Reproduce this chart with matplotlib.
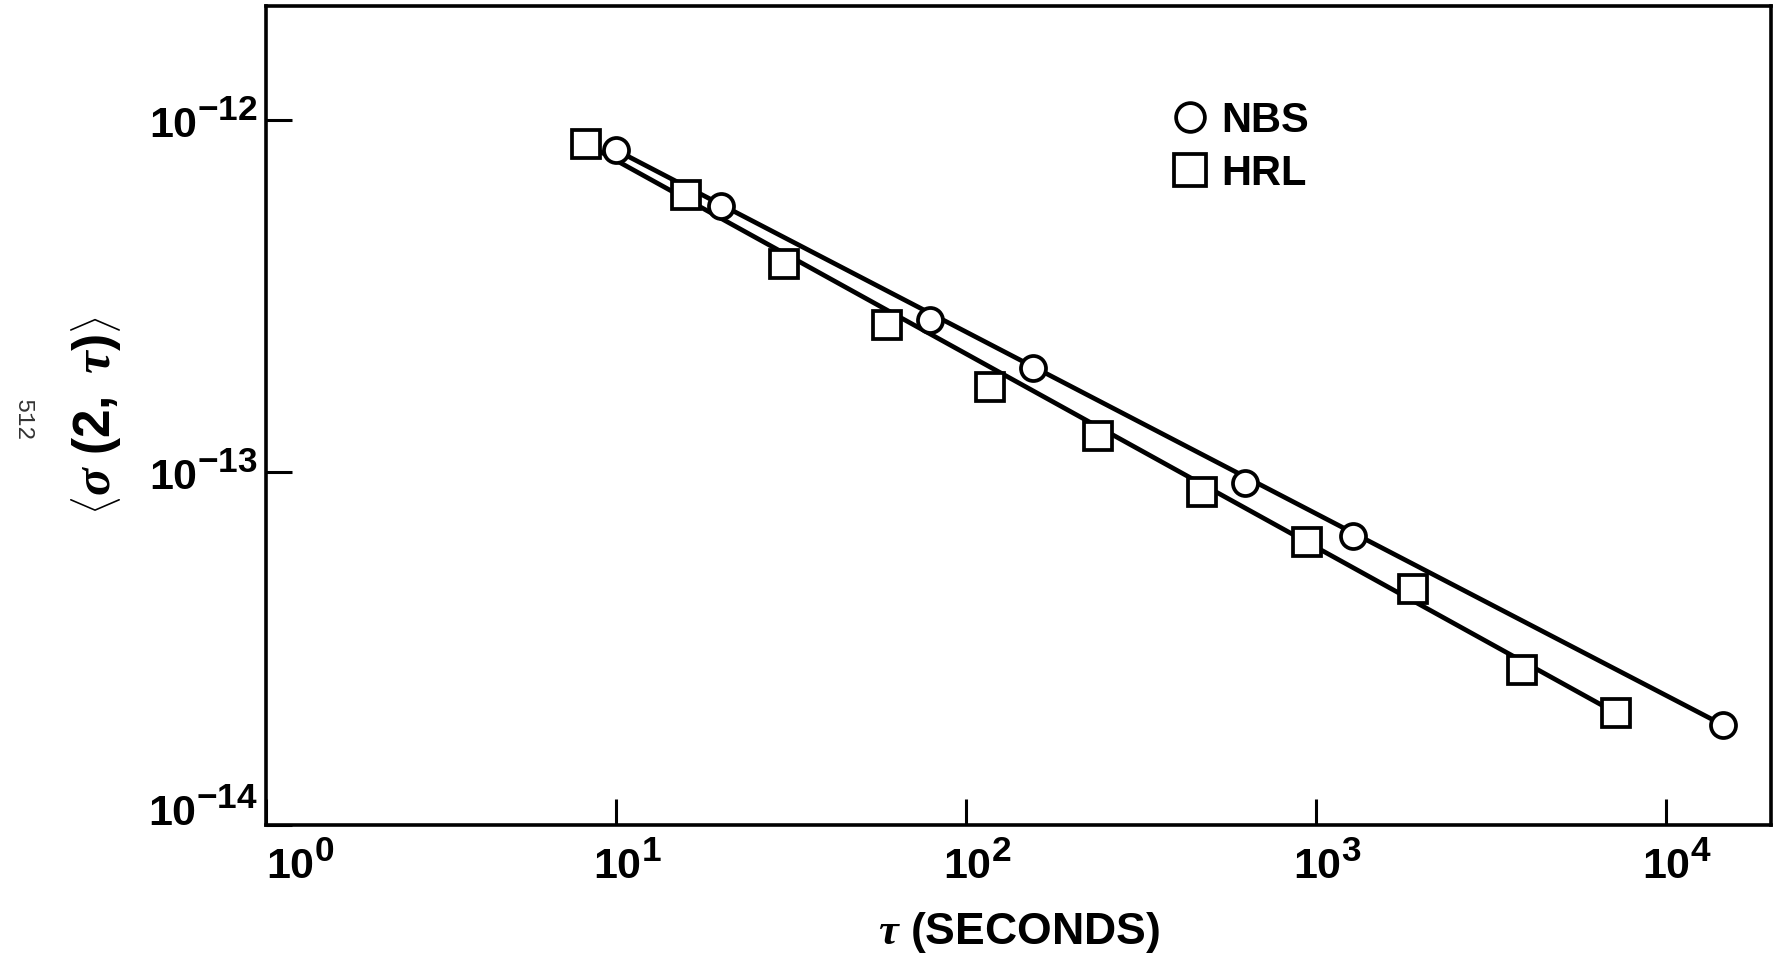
import matplotlib
matplotlib.use("Agg")
import matplotlib.pyplot as plt
import matplotlib.transforms as mtransforms
import matplotlib._mathtext as mathtext_internal

# the printed figure uses larger exponents than mathtext's default 0.7
mathtext_internal.SHRINK_FACTOR = 0.82

# values
nbs_tau = [10, 20, 79, 156, 628, 1275, 14600]
nbs_sigma = [8.2e-13, 5.7e-13, 2.71e-13, 1.97e-13, 9.3e-14, 6.6e-14, 1.92e-14]

hrl_tau = [8.2, 15.9, 30.3, 59.6, 117, 239, 473, 942, 1900, 3890, 7200]
hrl_sigma = [8.55e-13, 6.1e-13, 3.9e-13, 2.62e-13, 1.75e-13, 1.27e-13,
             8.77e-14, 6.33e-14, 4.67e-14, 2.75e-14, 2.08e-14]

# straight fit lines (end points)
nbs_fit_tau = [10, 14600]
nbs_fit_sigma = [8.2e-13, 1.92e-14]
hrl_fit_tau = [8.2, 7200]
hrl_fit_sigma = [8.55e-13, 2.08e-14]

xticks = [1, 10, 100, 1000, 10000]
xticklabels = [r'$\mathbf{10^{0}}$', r'$\mathbf{10^{1}}$', r'$\mathbf{10^{2}}$',
               r'$\mathbf{10^{3}}$', r'$\mathbf{10^{4}}$']
yticks = [1e-14, 1e-13, 1e-12]
yticklabels = [r'$\mathbf{10^{-14}}$', r'$\mathbf{10^{-13}}$', r'$\mathbf{10^{-12}}$']

plt.rcParams['font.family'] = ['Liberation Sans', 'DejaVu Sans']
plt.rcParams['font.weight'] = 'bold'
plt.rcParams['mathtext.fontset'] = 'custom'
plt.rcParams['mathtext.rm'] = 'Liberation Sans:bold'
plt.rcParams['mathtext.bf'] = 'Liberation Sans:bold'
plt.rcParams['mathtext.sf'] = 'Liberation Sans:bold'
plt.rcParams['mathtext.it'] = 'Liberation Serif:italic'

fig = plt.figure(figsize=(17.73, 9.56), dpi=100)
ax = fig.add_axes([266 / 1773, 131 / 956, 1505 / 1773, 819 / 956])

ax.set_xscale('log')
ax.set_yscale('log')

ax.plot(nbs_fit_tau, nbs_fit_sigma, color='black', lw=3.4, zorder=2)
ax.plot(hrl_fit_tau, hrl_fit_sigma, color='black', lw=3.4, zorder=2)

ax.plot(nbs_tau, nbs_sigma, 'o', ms=18, mfc='white', mec='black', mew=2.7,
        zorder=3, label='NBS')
ax.plot(hrl_tau, hrl_sigma, 's', ms=19.5, mfc='white', mec='black', mew=2.7,
        zorder=3, label='HRL')

ax.set_xlim(1, 2.0e4)
ax.set_ylim(1e-14, 2.1e-12)

ax.set_xticks(xticks)
ax.set_xticklabels(xticklabels)
ax.set_yticks(yticks)
ax.set_yticklabels(yticklabels)
ax.minorticks_off()
ax.tick_params(axis='both', direction='in', length=19, width=2.2,
               labelsize=31, color='black')
ax.tick_params(axis='x', pad=13)
ax.tick_params(axis='y', pad=6)

for sp in ax.spines.values():
    sp.set_linewidth(2.6)

# shift the x tick labels so the "10" sits on the tick
shift = mtransforms.ScaledTranslation(8 / 72, 0, fig.dpi_scale_trans)
xl = ax.get_xticklabels()
xl[0].set_ha('left')
for lab in xl[1:]:
    lab.set_transform(lab.get_transform() + shift)
up = mtransforms.ScaledTranslation(0, 12 / 72, fig.dpi_scale_trans)
yl = ax.get_yticklabels()
yl[0].set_transform(yl[0].get_transform() + up)

ax.set_xlabel(r'$\tau$ (SECONDS)', fontsize=32, fontweight='bold', labelpad=16)
ax.set_ylabel(r'$\left\langle\sigma\ (2,\ \tau)\right\rangle$', fontsize=37,
              labelpad=18)

leg = ax.legend(loc='upper left', bbox_to_anchor=(0.600, 0.884), frameon=False,
                fontsize=30, handletextpad=0.25, labelspacing=0.3, borderpad=0,
                borderaxespad=0, handlelength=1.0, markerscale=1.15)

fig.text(23 / 1773, 1 - 420 / 956, '512', rotation=-90, family='Liberation Mono',
         fontweight='normal', fontsize=17, ha='center', va='center', color='#333333')

fig.savefig('out.png', dpi=100)
